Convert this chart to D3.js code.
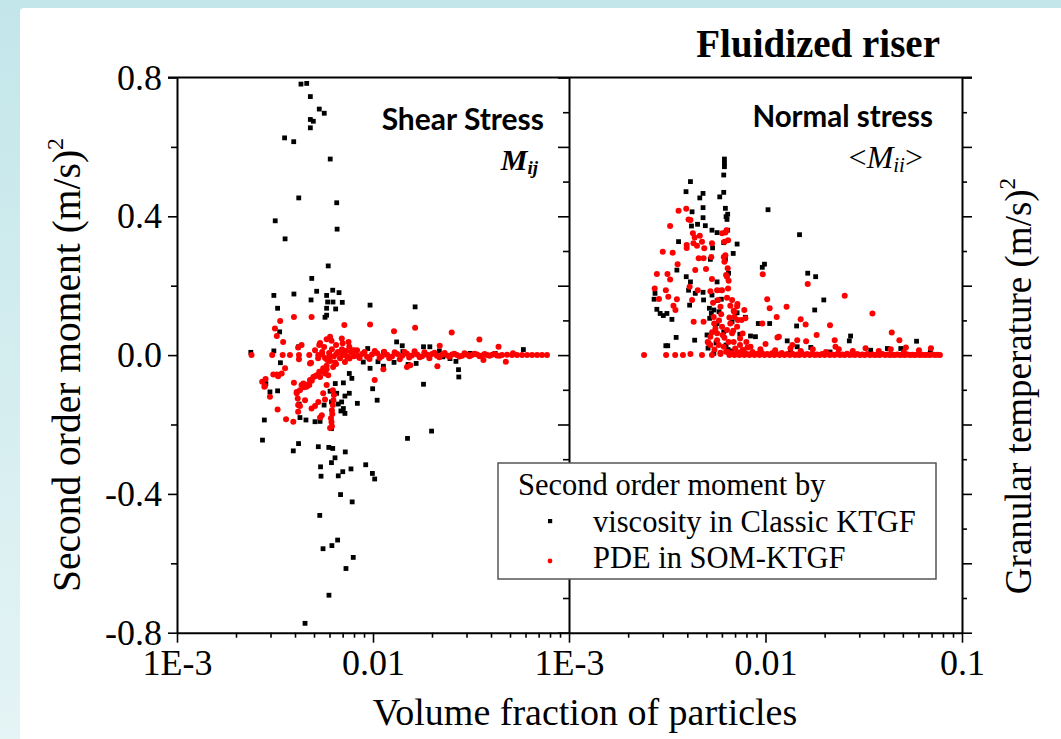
<!DOCTYPE html>
<html>
<head>
<meta charset="utf-8">
<script src="https://cdn.jsdelivr.net/npm/d3@7"></script>
<style>
  body { margin: 0; background: #fff; }
  svg { display: block; }
</style>
</head>
<body>
<script>
// --- data: [volume fraction, second order moment (m/s)^2] ---
var shearClassic = [
  [4.29e-3,0.781],[4.59e-3,0.783],[4.79e-3,0.745],[5.32e-3,0.709],[5.64e-3,0.697],[4.79e-3,0.679],[4.96e-3,0.674],[4.79e-3,0.655],
  [3.54e-3,0.626],[3.94e-3,0.615],[6.05e-3,0.565],[4.18e-3,0.453],[6.53e-3,0.439],[3.17e-3,0.387],[6.56e-3,0.363],[3.56e-3,0.335],
  [5.91e-3,0.257],[4.87e-3,0.221],[3.12e-3,0.172],[3.95e-3,0.176],[5.16e-3,0.184],[6.23e-3,0.187],[6.71e-3,0.180],[4.83e-3,0.159],
  [5.80e-3,0.172],[5.87e-3,0.153],[6.25e-3,0.153],[6.97e-3,0.152],[3.26e-3,0.135],[6.45e-3,0.133],[5.80e-3,0.135],[9.66e-3,0.144],
  [16.4e-3,0.139],[5.69e-3,0.109],[5.80e-3,0.115],[3.34e-3,0.067],[13.2e-3,0.038],[14.1e-3,0.027],[4.17e-3,0.024],[2.38e-3,0.008],
  [3.12e-3,0.012],[9.40e-3,0.019],[18.1e-3,0.024],[19.5e-3,0.024],[21.8e-3,0.012],[58.5e-3,0.016],
  [3.37e-3,-0.022],[8.92e-3,-0.020],[9.66e-3,-0.038],[10.6e-3,-0.019],[11.3e-3,-0.032],[12.8e-3,-0.021],[15.1e-3,-0.027],[16.6e-3,-0.024],
  [26.5e-3,-0.018],[27.3e-3,-0.042],[27.4e-3,-0.063],[18.1e-3,-0.084],[7.57e-3,-0.053],[7.80e-3,-0.067],[7.06e-3,-0.080],[6.42e-3,-0.082],
  [9.96e-3,-0.097],[10.5e-3,-0.130],[6.04e-3,-0.104],[6.53e-3,-0.110],[7.57e-3,-0.110],[7.19e-3,-0.118],[6.92e-3,-0.135],[8.32e-3,-0.139],
  [6.65e-3,-0.141],[6.14e-3,-0.135],[5.63e-3,-0.144],[6.86e-3,-0.161],[7.19e-3,-0.168],[7.06e-3,-0.154],[2.84e-3,-0.082],[2.98e-3,-0.106],
  [3.26e-3,-0.103],[4.20e-3,-0.141],[4.24e-3,-0.180],[4.55e-3,-0.187],[5.06e-3,-0.192],[5.37e-3,-0.191],[6.14e-3,-0.212],[2.79e-3,-0.187],
  [2.73e-3,-0.245],[3.92e-3,-0.276],[4.17e-3,-0.255],[5.26e-3,-0.264],[5.95e-3,-0.266],[6.23e-3,-0.269],[7.22e-3,-0.279],[6.40e-3,-0.296],
  [6.14e-3,-0.310],[5.40e-3,-0.322],[5.43e-3,-0.349],[7.01e-3,-0.336],[6.65e-3,-0.348],[7.72e-3,-0.328],[9.18e-3,-0.316],[9.93e-3,-0.341],
  [10.2e-3,-0.357],[6.83e-3,-0.402],[7.83e-3,-0.423],[15.0e-3,-0.240],[19.9e-3,-0.219],[5.35e-3,-0.462],[5.56e-3,-0.558],[6.17e-3,-0.549],
  [6.60e-3,-0.533],[7.93e-3,-0.583],[7.28e-3,-0.615],[5.96e-3,-0.692],[4.50e-3,-0.773],
  [42e-3,0.005],[24.7e-3,-0.010],[31.3e-3,0.005],[11.3e-3,0.007],[14.2e-3,0.010],[22.7e-3,-0.005]
];

var shearSOM = [
  [3.36e-3,0.098],[3.95e-3,0.110],[4.86e-3,0.110],[7.14e-3,0.087],[9.66e-3,0.088],[12.8e-3,0.069],[16.4e-3,0.079],[25.2e-3,0.065],
  [34.9e-3,0.045],[43.7e-3,0.024],[3.16e-3,0.077],[3.23e-3,0.055],[3.48e-3,0.038],
  [2.40e-3,0],[3.06e-3,0],[3.46e-3,0],[3.77e-3,0],[4.19e-3,0],[4.73e-3,0],[5.26e-3,0],
  [5.37e-3,0.035],[6.04e-3,0.053],[6.14e-3,0.041],[6.93e-3,0.048],[7.50e-3,0.038],[7.57e-3,0.024],[7.93e-3,0.014],[21.9e-3,0.027],
  [4.19e-3,-0.012],[4.83e-3,-0.022],[5.69e-3,-0.008],
  [3.23e-3,-0.056],[3.42e-3,-0.053],[3.56e-3,-0.038],[2.83e-3,-0.069],[2.72e-3,-0.077],[3.95e-3,-0.080],[4.32e-3,-0.086],[4.96e-3,-0.063],
  [4.87e-3,-0.074],[4.67e-3,-0.084],[10.2e-3,-0.072],[21.3e-3,-0.032],[36.6e-3,-0.014],[47.6e-3,-0.019],[51.8e-3,0.005],[14.9e-3,-0.034],
  [2.81e-3,-0.089],[2.98e-3,-0.120],[3.26e-3,-0.157],[3.60e-3,-0.185],[3.92e-3,-0.192],[4.08e-3,-0.106],[4.13e-3,-0.125],[4.24e-3,-0.147],
  [4.15e-3,-0.163],[4.44e-3,-0.093],[4.73e-3,-0.086],[5.06e-3,-0.061],[5.37e-3,-0.063],[5.69e-3,-0.053],[5.40e-3,-0.048],[5.80e-3,-0.041],
  [6.26e-3,-0.034],[6.40e-3,-0.021],[4.86e-3,-0.154],[5.37e-3,-0.180],[5.48e-3,-0.173],
  [6.24e-3,-0.101],[6.32e-3,-0.115],[6.28e-3,-0.130],[6.24e-3,-0.144],[6.17e-3,-0.159],[6.20e-3,-0.170],[6.10e-3,-0.182],[6.14e-3,-0.193],
  [6.17e-3,-0.205],[6.04e-3,-0.210],
  [5.80e-3,-0.086],[5.57e-3,-0.110],[5.69e-3,-0.128],[5.26e-3,-0.135],[5.06e-3,-0.147],
  [4.32e-3,0.029],[4.15e-3,0.022],[4.77e-3,-0.024],[5.32e-3,0.029],[5.80e-3,0.046],[7.0e-3,0.034],
  [3.10e-3,-0.056],[3.28e-3,-0.061],[2.79e-3,-0.091],[4.08e-3,-0.110],[4.15e-3,-0.144],[4.24e-3,-0.101],[4.41e-3,-0.082],[4.59e-3,-0.091],
  [4.50e-3,-0.130],[4.77e-3,-0.072],[5.16e-3,-0.058],[5.32e-3,-0.048],[5.57e-3,-0.038],[5.80e-3,-0.031],[5.69e-3,-0.043],[5.91e-3,-0.058],
  [11.3e-3,-0.041],[15.5e-3,-0.029],
  [5.06e-3,0.014],[5.25e-3,-0.009],[5.50e-3,0.009],[5.63e-3,0.023],[5.84e-3,-0.014],[5.97e-3,0.006],[6.17e-3,0.017],[6.32e-3,-0.003],
  [6.48e-3,0.029],[6.62e-3,0.009],[6.79e-3,-0.009],[6.95e-3,0.017],[7.11e-3,0],[7.28e-3,0.012],[7.44e-3,-0.006],[7.72e-3,0.009],
  [8.0e-3,-0.003],[8.29e-3,0.014],[6.48e-3,-0.026],[6.04e-3,-0.017],[7.19e-3,-0.020],[5.5e-3,0.002],[6.0e-3,-0.004],[6.5e-3,0.003],
  [6.95e-3,0.004],[7.37e-3,-0.004],[7.81e-3,0.006],[8.29e-3,-0.002],[8.79e-3,0.003],[9.32e-3,-0.005],[9.88e-3,0.002],[10.5e-3,0.005],
  [11.1e-3,-0.003],[11.8e-3,0.001],[12.5e-3,-0.004],[13.3e-3,0.003],[14.1e-3,-0.002],[14.9e-3,0.004],[15.8e-3,-0.001],[16.8e-3,0.002],
  [17.8e-3,-0.003],[18.9e-3,0.001],[20.0e-3,0.003],[21.2e-3,-0.002],[22.5e-3,0.001],[23.9e-3,-0.001],[25.3e-3,0.002],[26.8e-3,0],
  [28.5e-3,-0.002],[30.2e-3,0.001],[32.0e-3,0],[34.0e-3,0.002],[36.0e-3,-0.001],[38.2e-3,0],[40.5e-3,0.001],[42.9e-3,-0.001],
  [45.5e-3,0],[48.3e-3,0.001],[51.2e-3,0],[54.3e-3,0],[57.6e-3,0],[61.1e-3,0],[64.8e-3,0],[68.7e-3,0],[72.8e-3,0],[77.2e-3,0],
  [7.16e-3,0.011],[7.59e-3,-0.010],[8.05e-3,0.013],[8.54e-3,-0.008],[9.05e-3,0.009],[9.6e-3,-0.011],[10.2e-3,0.012],[10.8e-3,-0.008],
  [11.4e-3,0.010],[12.1e-3,-0.009],[12.9e-3,0.008],[13.7e-3,-0.012],[14.5e-3,0.009],[15.3e-3,-0.007],[16.3e-3,0.011],[17.3e-3,-0.006],
  [18.3e-3,0.008],[19.4e-3,-0.009],[20.6e-3,0.007],[21.8e-3,-0.006],[23.2e-3,0.006],[24.6e-3,-0.005],[26.0e-3,0.004],[27.6e-3,-0.004],
  [29.3e-3,0.005],[31.1e-3,-0.003],[33.0e-3,0.004],[35.0e-3,-0.003],[37.1e-3,0.003],[39.3e-3,-0.002],[41.7e-3,0.003],[44.2e-3,-0.002]
];

var normalClassic = [
  [6.18e-3,0.565],[6.18e-3,0.553],[6.18e-3,0.543],[6.13e-3,0.519],[4.15e-3,0.500],[3.94e-3,0.471],[4.81e-3,0.466],[4.63e-3,0.453],
  [5.85e-3,0.456],[6.13e-3,0.469],[4.81e-3,0.425],[4.23e-3,0.413],[4.81e-3,0.396],[6.25e-3,0.423],[6.42e-3,0.406],[6.37e-3,0.391],
  [6.30e-3,0.399],[10.3e-3,0.419],[4.20e-3,0.372],[4.51e-3,0.377],[4.94e-3,0.373],[5.34e-3,0.360],[5.67e-3,0.353],[6.42e-3,0.360],
  [3.61e-3,0.327],[5.38e-3,0.309],[6.13e-3,0.324],[7.17e-3,0.320],[6.85e-3,0.293],[6.25e-3,0.276],[5.24e-3,0.276],[14.9e-3,0.347],
  [3.54e-3,0.245],[3.95e-3,0.226],[4.15e-3,0.211],[4.06e-3,0.187],[4.39e-3,0.178],[4.81e-3,0.181],[5.67e-3,0.211],[5.90e-3,0.187],
  [6.49e-3,0.236],[9.63e-3,0.253],[9.88e-3,0.262],[16.4e-3,0.236],[18.0e-3,0.226],[19.8e-3,0.159],[17.8e-3,0.130],[2.71e-3,0.161],
  [2.80e-3,0.132],[2.91e-3,0.120],[3.02e-3,0.114],[3.34e-3,0.103],[3.15e-3,0.120],[2.74e-3,0.178],[4.11e-3,0.144],[4.84e-3,0.159],
  [5.34e-3,0.173],[5.67e-3,0.157],[5.96e-3,0.161],[5.18e-3,0.135],[5.46e-3,0.130],[5.80e-3,0.125],[7.17e-3,0.122],[7.90e-3,0.109],
  [6.76e-3,0.096],[5.20e-3,0.106],[5.67e-3,0.091],[5.56e-3,0.077],[6.13e-3,0.067],[5.04e-3,0.058],[9.19e-3,0.091],[10.5e-3,0.091],
  [14.4e-3,0.084],[8.39e-3,0.055],[8.89e-3,0.053],[12.9e-3,0.041],[27.1e-3,0.055],[26.7e-3,0.041],[58.7e-3,0.040],[3.51e-3,0.051],
  [3.18e-3,0.027],[3.11e-3,0.027],[4.36e-3,0.043],[5.46e-3,0.005],[17.0e-3,0.022],[14.5e-3,0.024],[41.7e-3,0.019],[48.8e-3,0.019],
  [6.30e-3,0.029],[6.45e-3,0.016],[9.4e-3,0.009],[13.4e-3,0.012],[21.3e-3,0.009],[34.3e-3,0.014],[69e-3,0.009],
  [5.10e-3,0.020],[5.60e-3,0.035],[6.70e-3,0.012],[7.40e-3,0.060],[5.30e-3,0.120]
];

var normalSOM = [
  [3.61e-3,0.416],[3.95e-3,0.422],[4.06e-3,0.391],[3.27e-3,0.372],[4.27e-3,0.351],[4.30e-3,0.322],[3.97e-3,0.317],[4.75e-3,0.327],
  [4.88e-3,0.308],[5.34e-3,0.322],[4.84e-3,0.279],[4.57e-3,0.279],[6.01e-3,0.351],[6.25e-3,0.353],[6.18e-3,0.327],[6.25e-3,0.288],
  [6.18e-3,0.269],[6.42e-3,0.250],[3.00e-3,0.298],[3.37e-3,0.295],[3.57e-3,0.262],[2.80e-3,0.234],[3.17e-3,0.234],[3.27e-3,0.218],
  [2.73e-3,0.192],[3.11e-3,0.187],[3.20e-3,0.168],[3.54e-3,0.161],[3.48e-3,0.130],[4.39e-3,0.245],[4.98e-3,0.248],[5.34e-3,0.219],
  [5.67e-3,0.187],[6.01e-3,0.187],[6.37e-3,0.226],[6.49e-3,0.214],[2.87e-3,0.162],[4.31e-3,0.096],[4.84e-3,0.096],[9.68e-3,0.233],
  [10.2e-3,0.161],[10.5e-3,0.135],[12.8e-3,0.139],[11.4e-3,0.110],[9.63e-3,0.091],[16.4e-3,0.205],[25.3e-3,0.171],[35.0e-3,0.120],
  [43.9e-3,0.065],[48.0e-3,0.043],[51.8e-3,0.022],[15.1e-3,0.103],[16.0e-3,0.088],[21.3e-3,0.086],[18.2e-3,0.058],[22.5e-3,0.043],
  [22.7e-3,0.024],[16.1e-3,0.040],[14.5e-3,0.043],[11.7e-3,0.053],[13.7e-3,0.029],[6.76e-3,0.159],[7.17e-3,0.141],[6.89e-3,0.128],
  [7.80e-3,0.130],[7.90e-3,0.106],
  [4.15e-3,0.389],[4.36e-3,0.339],[4.63e-3,0.344],[6.33e-3,0.360],[6.45e-3,0.331],[3.97e-3,0.309],[4.48e-3,0.315],[5.30e-3,0.283],
  [6.13e-3,0.283],[6.30e-3,0.231],[6.45e-3,0.192],[3.40e-3,0.142],[4.11e-3,0.197],[4.23e-3,0.159],[4.52e-3,0.187],[5.24e-3,0.184],
  [5.41e-3,0.151],[5.73e-3,0.159],[6.37e-3,0.165],[5.90e-3,0.139],[6.62e-3,0.142],[6.93e-3,0.125],[7.20e-3,0.147],[7.23e-3,0.101],
  [7.55e-3,0.101],[5.48e-3,0.091],[5.24e-3,0.053],[5.13e-3,0.035],[5.67e-3,0.063],[5.78e-3,0.029],[6.18e-3,0.050],[5.90e-3,0.007],
  [6.76e-3,0.063],[6.89e-3,0.038],[7.42e-3,0.048],[11.5e-3,0.051],[10.0e-3,0.032],[5.56e-3,0.077],[6.01e-3,0.082],[6.37e-3,0.072],
  [6.62e-3,0.091],[7.17e-3,0.082],[5.67e-3,0.043],[6.13e-3,0.024],[6.49e-3,0.038],[7.01e-3,0.019],[7.42e-3,0.029],[7.99e-3,0.038],
  [8.39e-3,0.024],[5.24e-3,0.029],[5.08e-3,0.038],
  [5.45e-3,0.110],[5.95e-3,0.118],[6.55e-3,0.108],[5.35e-3,0.066],[6.05e-3,0.058],[6.85e-3,0.070],[7.65e-3,0.062],[5.50e-3,0.016],
  [6.40e-3,0.010],[7.20e-3,0.008],[7.75e-3,0.015],[8.10e-3,0.022],[5.80e-3,0.100],[6.95e-3,0.110],
  [2.41e-3,0],[3.12e-3,0],[3.47e-3,0],[3.80e-3,0],[4.15e-3,0.003],[4.75e-3,0],[5.34e-3,0],[5.90e-3,0.003],[6.3e-3,0.010],[6.6e-3,0.004],
  [6.55e-3,0],[6.95e-3,0],[7.37e-3,0],[7.81e-3,0],[8.29e-3,0],[8.79e-3,0],[9.32e-3,0],[9.88e-3,0],[10.5e-3,0],[11.1e-3,0],
  [11.8e-3,0],[12.5e-3,0],[13.3e-3,0],[14.1e-3,0],[14.9e-3,0],[15.8e-3,0],[16.8e-3,0],[17.8e-3,0],[18.9e-3,0],[20.0e-3,0],
  [21.2e-3,0],[22.5e-3,0],[23.9e-3,0],[25.3e-3,0],[26.8e-3,0],[28.5e-3,0],[30.2e-3,0],[32.0e-3,0],[34.0e-3,0],[36.0e-3,0],
  [38.2e-3,0],[40.5e-3,0],[42.9e-3,0],[45.5e-3,0],[48.3e-3,0],[51.2e-3,0],[54.3e-3,0],[57.6e-3,0],[61.1e-3,0],[64.8e-3,0],
  [68.7e-3,0],[72.8e-3,0],[77.2e-3,0],
  [6.75e-3,0.006],[7.16e-3,0.004],[7.59e-3,0.007],[8.05e-3,0.003],[8.54e-3,0.005],[9.05e-3,0.004],[9.6e-3,0.006],[10.2e-3,0.003],
  [10.8e-3,0.005],[11.4e-3,0.003],[12.1e-3,0.006],[12.9e-3,0.003],[13.7e-3,0.004],[14.5e-3,0.002],[15.3e-3,0.005],[16.3e-3,0.003],
  [17.3e-3,0.004],[18.3e-3,0.002],[19.4e-3,0.003],[20.6e-3,0.004],[21.8e-3,0.002],[23.2e-3,0.003],[24.6e-3,0.002],[26.0e-3,0.004],
  [27.6e-3,0.002],[29.3e-3,0.003],[31.1e-3,0.002],[33.0e-3,0.003],[35.0e-3,0.002],[37.1e-3,0.001],[39.3e-3,0.003],[41.7e-3,0.002],
  [44.2e-3,0.001],[46.9e-3,0.002],[49.7e-3,0.001],[52.7e-3,0.002],[55.9e-3,0.001],[59.3e-3,0.002],[62.9e-3,0.001],[66.7e-3,0.001],
  [70.7e-3,0.002],[75.0e-3,0.001],
  [9.42e-3,0.017],[11.2e-3,0.014],[13.4e-3,0.020],[15.1e-3,0.012],[17.4e-3,0.017],[20.3e-3,0.009],[23.6e-3,0.017],[27.8e-3,0.012],
  [32.3e-3,0.020],[37.7e-3,0.012],[43.4e-3,0.017],[50.6e-3,0.009],[60.4e-3,0.014],[69.5e-3,0.020],[7.63e-3,0.014],[8.59e-3,0.009]
];

// ticks and labels
var yMajor = [-0.8, -0.4, 0, 0.4, 0.8];
var yMinor = [-0.6, -0.2, 0.2, 0.6];
var yInner = [-0.8,-0.7,-0.6,-0.5,-0.4,-0.3,-0.2,-0.1,0,0.1,0.2,0.3,0.4,0.5,0.6,0.7,0.8];
var xMajorLeft = [0.001, 0.01];
var xMajorRight = [0.001, 0.01, 0.1];
var xLabels = {"0.001": "1E-3", "0.01": "0.01", "0.1": "0.1"};
var xMinor = [0.002,0.003,0.004,0.005,0.006,0.007,0.008,0.009,0.02,0.03,0.04,0.05,0.06,0.07,0.08,0.09];
var legendItems = ["viscosity in Classic KTGF", "PDE in SOM-KTGF"];

(function() {
var width = 1061, height = 739;
var serif = "'Liberation Serif', 'Times New Roman', serif";
var sans = "Lato, 'Open Sans', sans-serif";

var svg = d3.select("body").append("svg")
  .attr("width", width)
  .attr("height", height);

// slide background
var defs = svg.append("defs");
var grad = defs.append("linearGradient").attr("id", "bg").attr("x1", 0).attr("y1", 0).attr("x2", 0).attr("y2", 1);
grad.append("stop").attr("offset", "0%").attr("stop-color", "#c3e6ea");
grad.append("stop").attr("offset", "100%").attr("stop-color", "#e5f4f5");
svg.append("rect").attr("width", width).attr("height", height).attr("fill", "url(#bg)");
svg.append("rect").attr("x", 20).attr("y", 8).attr("width", width).attr("height", height)
  .attr("rx", 4).attr("fill", "#ffffff");

var pTop = 77.5, pBottom = 632.7, pLeft = 177, pMid = 569, pRight = 962;

var y = d3.scaleLinear().domain([-0.8, 0.8]).range([pBottom, pTop]);
var xL = d3.scaleLog().domain([1e-3, 1e-1]).range([pLeft, pMid]);
var xR = d3.scaleLog().domain([1e-3, 1e-1]).range([pMid, pRight]);

function styleAxis(g) {
  g.selectAll("path.domain").attr("stroke", "#000").attr("stroke-width", 2);
  g.selectAll(".tick line").attr("stroke", "#000").attr("stroke-width", 1.6);
  g.selectAll(".tick text").attr("font-family", serif).attr("font-size", 36).attr("fill", "#000");
}

// left y axis
var gy = svg.append("g").attr("transform", "translate(" + pLeft + ",0)");
gy.call(d3.axisLeft(y).tickValues(yMajor).tickSize(9).tickPadding(6).tickSizeOuter(0)
  .tickFormat(function(d) { return d3.format(".1f")(d).replace("\u2212", "-"); }));
gy.append("g").call(d3.axisLeft(y).tickValues(yMinor).tickSize(6).tickFormat(""))
  .select("path.domain").remove();
styleAxis(gy);

var evenTicks = yInner.filter(function(d, i) { return i % 2 == 0; });
var oddTicks = yInner.filter(function(d, i) { return i % 2 == 1; });

// divider: ticks pointing into the left panel
var gd = svg.append("g").attr("transform", "translate(" + pMid + ",0)");
gd.call(d3.axisLeft(y).tickValues(evenTicks).tickSize(11).tickSizeOuter(0).tickFormat(""));
gd.append("g").call(d3.axisLeft(y).tickValues(oddTicks).tickSize(6).tickFormat(""))
  .select("path.domain").remove();
styleAxis(gd);

// right axis (granular temperature), ticks outward
var gr = svg.append("g").attr("transform", "translate(" + pRight + ",0)");
gr.call(d3.axisRight(y).tickValues(evenTicks).tickSize(10).tickSizeOuter(0).tickFormat(""));
gr.append("g").call(d3.axisRight(y).tickValues(oddTicks).tickSize(5).tickFormat(""))
  .select("path.domain").remove();
styleAxis(gr);

// top line
svg.append("line").attr("x1", pLeft - 9).attr("x2", pRight + 10).attr("y1", pTop).attr("y2", pTop)
  .attr("stroke", "#000").attr("stroke-width", 2);

// bottom axes
[[xL, xMajorLeft], [xR, xMajorRight]].forEach(function(p) {
  var gx = svg.append("g").attr("transform", "translate(0," + pBottom + ")");
  gx.call(d3.axisBottom(p[0]).tickValues(p[1]).tickSize(10).tickPadding(4).tickSizeOuter(0)
    .tickFormat(function(d) { return xLabels[String(d)]; }));
  gx.append("g").call(d3.axisBottom(p[0]).tickValues(xMinor).tickSize(5).tickFormat(""))
    .select("path.domain").remove();
  styleAxis(gx);
  gx.selectAll(".tick text").attr("dy", "0.8em");
});

// markers
function drawSquares(data, xs) {
  svg.append("g").selectAll("rect").data(data).enter().append("rect")
    .attr("x", function(d) { return xs(d[0]) - 2.4; })
    .attr("y", function(d) { return y(d[1]) - 2.4; })
    .attr("width", 4.8).attr("height", 4.8)
    .attr("fill", "#000");
}
function drawDots(data, xs) {
  svg.append("g").selectAll("circle").data(data).enter().append("circle")
    .attr("cx", function(d) { return xs(d[0]); })
    .attr("cy", function(d) { return y(d[1]); })
    .attr("r", 3)
    .attr("fill", "#ff0000");
}
drawSquares(shearClassic, xL);
drawSquares(normalClassic, xR);
drawDots(shearSOM, xL);
drawDots(normalSOM, xR);

// panel labels
svg.append("text").attr("x", 544).attr("y", 130).attr("text-anchor", "end")
  .attr("font-family", sans).attr("font-weight", 700).attr("font-size", 30)
  .text("Shear Stress");
var mij = svg.append("text").attr("x", 538).attr("y", 170).attr("text-anchor", "end")
  .attr("font-family", serif).attr("font-weight", 700).attr("font-style", "italic").attr("font-size", 30);
mij.append("tspan").text("M");
mij.append("tspan").attr("font-size", 19).attr("dy", 4).text("ij");

svg.append("text").attr("x", 933).attr("y", 127).attr("text-anchor", "end")
  .attr("font-family", sans).attr("font-weight", 700).attr("font-size", 29.5)
  .text("Normal stress");
var mii = svg.append("text").attr("x", 923).attr("y", 168).attr("text-anchor", "end")
  .attr("font-family", serif).attr("font-size", 32);
mii.append("tspan").text("<");
mii.append("tspan").attr("font-style", "italic").text("M");
mii.append("tspan").attr("font-style", "italic").attr("font-size", 21).attr("dy", 4).text("ii");
mii.append("tspan").attr("dy", -4).text(">");

// title
svg.append("text").attr("x", 940).attr("y", 57).attr("text-anchor", "end")
  .attr("font-family", serif).attr("font-weight", 700).attr("font-size", 39)
  .text("Fluidized riser");

// axis titles
svg.append("text").attr("x", 585).attr("y", 725).attr("text-anchor", "middle")
  .attr("font-family", serif).attr("font-size", 38)
  .text("Volume fraction of particles");

var yl = svg.append("text").attr("transform", "translate(80,365) rotate(-90)").attr("text-anchor", "middle")
  .attr("font-family", serif).attr("font-size", 39.5);
yl.append("tspan").text("Second order moment (m/s)");
yl.append("tspan").attr("font-size", 24).attr("dy", -17).text("2");

var yr = svg.append("text").attr("transform", "translate(1031,386) rotate(-90)").attr("text-anchor", "middle")
  .attr("font-family", serif).attr("font-size", 37);
yr.append("tspan").text("Granular temperature (m/s)");
yr.append("tspan").attr("font-size", 23).attr("dy", -16).text("2");

// legend
var lg = svg.append("g");
lg.append("rect").attr("x", 498).attr("y", 463).attr("width", 438).attr("height", 116)
  .attr("fill", "#fff").attr("stroke", "#555").attr("stroke-width", 1.5);
lg.append("text").attr("x", 518).attr("y", 495).attr("font-family", serif).attr("font-size", 30.5)
  .text("Second order moment by");
lg.selectAll("text.item").data(legendItems).enter().append("text").attr("class", "item")
  .attr("x", 593).attr("y", function(d, i) { return 532 + i * 36; })
  .attr("font-family", serif).attr("font-size", 30.5)
  .text(function(d) { return d; });
lg.append("rect").attr("x", 548).attr("y", 519).attr("width", 4.2).attr("height", 4.2).attr("fill", "#000");
lg.append("circle").attr("cx", 550).attr("cy", 561).attr("r", 2.4).attr("fill", "#ff0000");
})();
</script>
</body>
</html>
